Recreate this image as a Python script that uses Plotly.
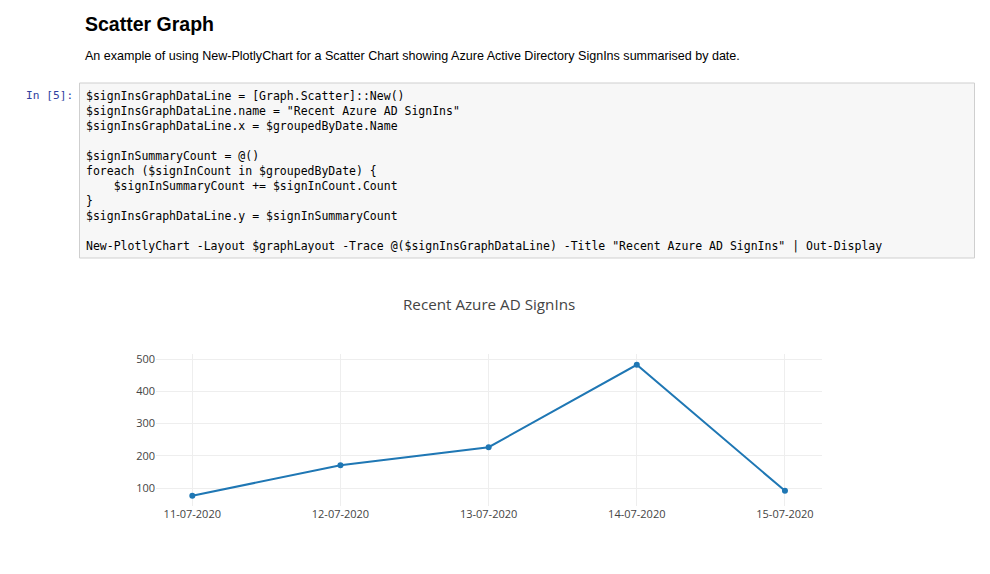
import plotly.graph_objects as go

# ---- data ----
dates = ["11-07-2020", "12-07-2020", "13-07-2020", "14-07-2020", "15-07-2020"]
signins = [77, 171, 227, 482, 92]
y_ticks = [100, 200, 300, 400, 500]

heading = "Scatter Graph"
paragraph = ("An example of using New-PlotlyChart for a Scatter Chart showing Azure "
             "Active Directory SignIns summarised by date.")
prompt = "In [5]:"
code_lines = [
    '$signInsGraphDataLine = [Graph.Scatter]::New()',
    '$signInsGraphDataLine.name = "Recent Azure AD SignIns"',
    '$signInsGraphDataLine.x = $groupedByDate.Name',
    '',
    '$signInSummaryCount = @()',
    'foreach ($signInCount in $groupedByDate) {',
    '    $signInSummaryCount += $signInCount.Count',
    '}',
    '$signInsGraphDataLine.y = $signInSummaryCount',
    '',
    'New-PlotlyChart -Layout $graphLayout -Trace @($signInsGraphDataLine) -Title "Recent Azure AD SignIns" | Out-Display',
]
chart_title = "Recent Azure AD SignIns"

# ---- page geometry (body has an 8px default margin) ----
OFF = 8
W, H = 990 - 2 * OFF, 574 - 2 * OFF


def px(x):
    return (x - OFF) / W


def py(y):
    return 1 - (y - OFF) / H


fig = go.Figure()
fig.add_trace(go.Scatter(
    x=dates, y=signins, mode="lines+markers", name=chart_title,
    line=dict(color="#1f77b4", width=2),
    marker=dict(color="#1f77b4", size=6),
))

annotations = []
annotations.append(dict(
    text="<b>" + heading + "</b>", x=px(83), y=py(24), xref="paper", yref="paper",
    xanchor="left", yanchor="middle", showarrow=False,
    font=dict(family="Liberation Sans, Arial", size=19.5, color="#000000")))
annotations.append(dict(
    text=paragraph, x=px(83), y=py(56), xref="paper", yref="paper",
    xanchor="left", yanchor="middle", showarrow=False,
    font=dict(family="Liberation Sans, Arial", size=12.55, color="#000000")))
annotations.append(dict(
    text=prompt.replace(" ", "\u00a0"), x=px(74.5), y=py(96), xref="paper", yref="paper",
    xanchor="right", yanchor="middle", showarrow=False,
    font=dict(family="DejaVu Sans Mono, monospace", size=11.2, color="#303F9F")))
for i, line in enumerate(code_lines):
    if not line:
        continue
    annotations.append(dict(
        text=line.replace(" ", "\u00a0"), x=px(84), y=py(96 + 15 * i),
        xref="paper", yref="paper", xanchor="left", yanchor="middle",
        showarrow=False,
        font=dict(family="DejaVu Sans Mono, monospace", size=11.5, color="#000000")))
annotations.append(dict(
    text=chart_title, x=px(489), y=py(303.5), xref="paper", yref="paper",
    xanchor="center", yanchor="middle", showarrow=False,
    font=dict(family="Open Sans, verdana, arial, sans-serif", size=15.2, color="#444444")))

shapes = [dict(
    type="rect", xref="paper", yref="paper",
    x0=px(79.5), x1=px(974.5), y0=py(83), y1=py(258),
    fillcolor="#f7f7f7", line=dict(color="#cfcfcf", width=1), layer="below")]

fig.update_layout(
    template="none",
    width=W, height=H,
    margin=dict(l=0, r=0, t=0, b=0, pad=0),
    paper_bgcolor="white", plot_bgcolor="white",
    showlegend=False,
    font=dict(family="Open Sans, verdana, arial, sans-serif", size=12, color="#444"),
    xaxis=dict(type="category", range=[-0.245, 4.248], showgrid=True,
               domain=[px(156), px(821.7)], tickfont=dict(size=11),
               gridcolor="#eee", zeroline=False, showline=False, ticks=""),
    yaxis=dict(range=[46, 515.5], tickvals=y_ticks, showgrid=True,
               domain=[py(505.7), py(354)], tickfont=dict(size=11),
               gridcolor="#eee", zeroline=False, showline=False, ticks=""),
    annotations=annotations,
    shapes=shapes,
)

fig.write_html("out.html", config={"displayModeBar": False})
